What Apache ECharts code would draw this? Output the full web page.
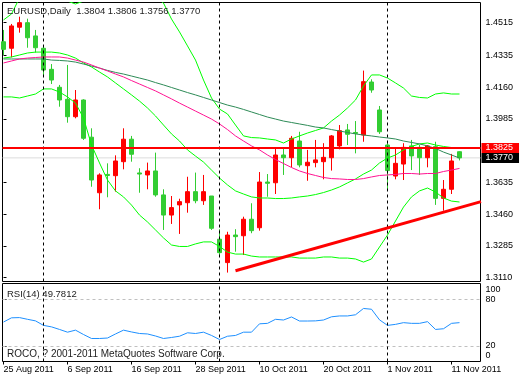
<!DOCTYPE html>
<html><head><meta charset="utf-8">
<script src="https://cdn.jsdelivr.net/npm/echarts@6/dist/echarts.min.js"></script>
<style>html,body{margin:0;padding:0;background:#fff}#c{width:520px;height:380px}</style>
</head><body><div id="c"></div>
<script>
// ---- data ----
const dates = ['25 Aug 2011','26 Aug 2011','29 Aug 2011','30 Aug 2011','31 Aug 2011','1 Sep 2011','2 Sep 2011','5 Sep 2011',
'6 Sep 2011','7 Sep 2011','8 Sep 2011','9 Sep 2011','12 Sep 2011','13 Sep 2011','14 Sep 2011','15 Sep 2011',
'16 Sep 2011','19 Sep 2011','20 Sep 2011','21 Sep 2011','22 Sep 2011','23 Sep 2011','26 Sep 2011','27 Sep 2011',
'28 Sep 2011','29 Sep 2011','30 Sep 2011','3 Oct 2011','4 Oct 2011','5 Oct 2011','6 Oct 2011','7 Oct 2011',
'10 Oct 2011','11 Oct 2011','12 Oct 2011','13 Oct 2011','14 Oct 2011','17 Oct 2011','18 Oct 2011','19 Oct 2011',
'20 Oct 2011','21 Oct 2011','24 Oct 2011','25 Oct 2011','26 Oct 2011','27 Oct 2011','28 Oct 2011','31 Oct 2011',
'1 Nov 2011','2 Nov 2011','3 Nov 2011','4 Nov 2011','7 Nov 2011','8 Nov 2011','9 Nov 2011','10 Nov 2011',
'11 Nov 2011','14 Nov 2011'];
const opens  = [1.4410,1.4374,1.4490,1.4515,1.4442,1.4374,1.4258,1.4159,1.4093,1.3997,1.4089,1.3884,1.3578,1.3679,1.3672,1.3749,
1.3873,1.3687,1.3676,1.3698,1.3566,1.3455,1.3511,1.3523,1.3584,1.3534,1.3560,1.3322,1.3193,1.3345,1.3341,1.3432,
1.3385,1.3637,1.3633,1.3786,1.3771,1.3863,1.3727,1.3744,1.3749,1.3771,1.3836,1.3924,1.3910,1.3896,1.4188,1.4034,
1.3841,1.3670,1.3736,1.3836,1.3828,1.3771,1.3832,1.3547,1.3597,1.3804];
const highs  = [1.4475,1.4508,1.4548,1.4537,1.4475,1.4383,1.4287,1.4172,1.4282,1.4144,1.4093,1.3933,1.3685,1.3740,1.3784,1.3933,
1.3891,1.3713,1.3744,1.3799,1.3597,1.3560,1.3545,1.3666,1.3689,1.3676,1.3560,1.3377,1.3363,1.3377,1.3446,1.3520,
1.3692,1.3681,1.3828,1.3828,1.3891,1.3914,1.3814,1.3869,1.3851,1.3896,1.3951,1.3957,1.3973,1.4251,1.4203,1.4056,
1.3851,1.3823,1.3851,1.3869,1.3841,1.3841,1.3859,1.3648,1.3792,1.3806];
const lows   = [1.4337,1.4324,1.4460,1.4377,1.4350,1.4221,1.4177,1.4052,1.3964,1.3988,1.3869,1.3611,1.3487,1.3553,1.3584,1.3707,
1.3749,1.3578,1.3597,1.3556,1.3373,1.3406,1.3351,1.3468,1.3520,1.3511,1.3373,1.3226,1.3138,1.3253,1.3235,1.3355,
1.3369,1.3556,1.3571,1.3676,1.3718,1.3718,1.3644,1.3718,1.3652,1.3700,1.3817,1.3841,1.3795,1.3859,1.4129,1.3902,
1.3597,1.3652,1.3648,1.3703,1.3676,1.3718,1.3511,1.3479,1.3571,1.3756];
const closes = [1.4368,1.4497,1.4515,1.4432,1.4377,1.4254,1.4199,1.4089,1.3997,1.4089,1.3878,1.3648,1.3676,1.3673,1.3753,1.3873,
1.3790,1.3681,1.3698,1.3566,1.3455,1.3496,1.3529,1.3584,1.3534,1.3584,1.3382,1.3248,1.3345,1.3336,1.3432,1.3369,
1.3637,1.3630,1.3786,1.3771,1.3878,1.3731,1.3746,1.3759,1.3773,1.3891,1.3920,1.3900,1.3905,1.4190,1.4144,1.3914,
1.3700,1.3740,1.3828,1.3781,1.3771,1.3836,1.3547,1.3597,1.3753,1.3770];
const bbUpper = [1.4530,1.4563,1.4651,1.4668,1.4673,1.4668,1.4662,1.4651,1.4634,1.4618,1.4634,1.4684,1.4723,1.4750,1.4750,1.4734,
1.4717,1.4695,1.4673,1.4657,1.4623,1.4535,1.4464,1.4387,1.4309,1.4199,1.4100,1.4039,1.4012,1.3951,1.3891,1.3882,
1.3880,1.3874,1.3869,1.3852,1.3874,1.3891,1.3907,1.3921,1.3935,1.3973,1.4006,1.4045,1.4089,1.4166,1.4227,1.4227,
1.4210,1.4183,1.4155,1.4111,1.4103,1.4100,1.4122,1.4128,1.4122,1.4122];
const bbMiddle = [1.4320,1.4326,1.4337,1.4348,1.4353,1.4353,1.4353,1.4348,1.4337,1.4320,1.4293,1.4271,1.4243,1.4216,1.4183,1.4150,
1.4117,1.4083,1.4045,1.4001,1.3951,1.3902,1.3863,1.3814,1.3780,1.3747,1.3703,1.3659,1.3621,1.3588,1.3571,1.3555,
1.3549,1.3549,1.3546,1.3546,1.3549,1.3555,1.3560,1.3568,1.3579,1.3593,1.3610,1.3632,1.3654,1.3681,1.3703,1.3742,
1.3769,1.3786,1.3814,1.3833,1.3847,1.3852,1.3841,1.3833,1.3827,1.3825];
const bbLower = [1.4106,1.4106,1.4100,1.4111,1.4122,1.4150,1.4150,1.4133,1.4106,1.4072,1.3990,1.3841,1.3742,1.3648,1.3588,1.3555,
1.3510,1.3455,1.3417,1.3373,1.3329,1.3290,1.3282,1.3282,1.3296,1.3307,1.3307,1.3282,1.3251,1.3240,1.3240,1.3229,
1.3224,1.3224,1.3224,1.3224,1.3224,1.3218,1.3218,1.3218,1.3224,1.3224,1.3218,1.3218,1.3213,1.3196,1.3213,1.3279,
1.3345,1.3422,1.3499,1.3555,1.3588,1.3604,1.3582,1.3549,1.3532,1.3527];
const maSlow = [1.4315,1.4315,1.4315,1.4315,1.4315,1.4315,1.4309,1.4307,1.4304,1.4298,1.4287,1.4276,1.4265,1.4252,1.4241,1.4232,
1.4221,1.4210,1.4199,1.4185,1.4172,1.4158,1.4144,1.4130,1.4117,1.4103,1.4089,1.4075,1.4061,1.4050,1.4037,1.4023,
1.4009,1.3995,1.3984,1.3973,1.3965,1.3957,1.3949,1.3940,1.3935,1.3926,1.3918,1.3910,1.3902,1.3896,1.3891,1.3885,
1.3880,1.3874,1.3863,1.3855,1.3847,1.3836,1.3822,1.3802,1.3786,1.3769];
const maFast = [1.4293,1.4304,1.4315,1.4320,1.4323,1.4326,1.4326,1.4326,1.4320,1.4309,1.4298,1.4282,1.4265,1.4249,1.4232,1.4216,
1.4196,1.4177,1.4158,1.4139,1.4117,1.4095,1.4072,1.4050,1.4028,1.4006,1.3984,1.3957,1.3926,1.3891,1.3863,1.3836,
1.3814,1.3786,1.3761,1.3739,1.3717,1.3698,1.3684,1.3673,1.3662,1.3656,1.3654,1.3651,1.3651,1.3656,1.3665,1.3673,
1.3676,1.3679,1.3684,1.3684,1.3681,1.3684,1.3684,1.3695,1.3703,1.3712];
const rsi = [50.6,56.0,56.3,54.1,52.1,46.3,44.4,41.1,37.6,40.2,34.6,29.5,29.5,30.1,35.3,40.2,
37.9,35.9,35.3,32.7,29.5,30.8,32.4,36.8,35.9,37.6,33.4,28.2,32.4,33.4,37.6,37.6,
48.3,48.9,54.1,53.2,57.1,51.9,51.9,52.1,53.2,57.3,58.4,58.4,59.9,68.0,67.0,53.4,
46.3,47.6,49.8,48.9,48.9,51.1,41.1,42.0,48.9,49.8];
const priceTicks = [1.3110,1.3285,1.3460,1.3635,1.3985,1.4160,1.4335,1.4515];
const dateTickIdx = [0,8,16,24,32,40,48,56];
const rsiTicks = [0,20,80,100];
const rsiLevels = [20,80];
const hLevel = 1.3825;
const bidLevel = 1.3770;
const trendLine = [[29,1.3148],[59.69,1.3529]];
const separators = [5,27,48];
const headerText = 'EURUSD,Daily  1.3804 1.3806 1.3756 1.3770';
const rsiText = 'RSI(14) 49.7812';
const copyText = 'ROCO, ? 2001-2011 MetaQuotes Software Corp.';

// ---- chart ----
const FONT = 'Liberation Sans';
const XMIN = -0.125, XMAX = 59.625;
const YMIN = 1.30889, YMAX = 1.46262;
const chart = echarts.init(document.getElementById('c'), null, {renderer:'canvas'});
const pts = arr => arr.map((v,i)=>[i,v]);
const lineS = (name, arr, color) => ({type:'line', name, data: pts(arr), xAxisIndex:0, yAxisIndex:0,
  showSymbol:false, symbol:'none', lineStyle:{color, width:1}, itemStyle:{color}, z:4, silent:true, clip:true});
const sepStyle = {color:'#000', width:1, type:[3,3]};
const levelSeries = (name, val, color, width, bg, z) => ({type:'line', name, xAxisIndex:0, yAxisIndex:0,
  data:[[XMIN,val],[XMAX,val]], showSymbol:false, symbol:'none', lineStyle:{color, width}, itemStyle:{color}, z, silent:true, clip:false,
  endLabel:{show:true, distance:1, formatter:()=>val.toFixed(4), color:'#fff', backgroundColor:bg,
    fontSize:9, fontFamily:FONT, padding:[1,6,0,4], lineHeight:9}});

chart.setOption({
  animation:false,
  backgroundColor:'#ffffff',
  grid:[
    {left:2.5, top:2.5, width:478, height:279, show:true, borderColor:'#000', borderWidth:1, backgroundColor:'transparent', containLabel:false, outerBoundsMode:'none'},
    {left:2.5, top:283.5, width:478, height:78, show:true, borderColor:'#000', borderWidth:1, backgroundColor:'transparent', containLabel:false, outerBoundsMode:'none'}
  ],
  xAxis:[
    {type:'value', gridIndex:0, min:XMIN, max:XMAX, axisLine:{show:false}, axisTick:{show:false}, axisLabel:{show:false}, splitLine:{show:false}},
    {type:'value', gridIndex:1, min:XMIN, max:XMAX, axisLine:{show:false}, splitLine:{show:false},
      axisTick:{show:true, customValues:dateTickIdx, length:3, lineStyle:{color:'#000'}},
      axisLabel:{show:true, customValues:dateTickIdx, formatter:v=>dates[Math.round(v)], align:'left', margin:4,
        fontSize:9, fontFamily:FONT, color:'#000'}}
  ],
  yAxis:[
    {type:'value', gridIndex:0, position:'right', min:YMIN, max:YMAX, axisLine:{show:false}, splitLine:{show:false},
      axisTick:{show:true, customValues:priceTicks, length:3, lineStyle:{color:'#000'}},
      axisLabel:{show:true, customValues:priceTicks, formatter:v=>v.toFixed(4), margin:5, fontSize:9, fontFamily:FONT, color:'#000'}},
    {type:'value', gridIndex:1, position:'right', min:0, max:100, axisLine:{show:false}, splitLine:{show:false},
      axisTick:{show:true, customValues:rsiTicks, length:3, lineStyle:{color:'#000'}},
      axisLabel:{show:true, customValues:rsiTicks, margin:5, fontSize:9, fontFamily:FONT, color:'#000',
        formatter:v=> v===100 ? '{t|100}' : (v===0 ? '{b|0}' : String(v)),
        rich:{t:{padding:[13,0,0,0], fontSize:9, fontFamily:FONT, color:'#000'},
              b:{padding:[0,0,12,0], fontSize:9, fontFamily:FONT, color:'#000'}}}}
  ],
  series:[
    levelSeries('bid', bidLevel, '#dcdcdc', 1, '#000000', 2),
    {type:'candlestick', name:'EURUSD', xAxisIndex:0, yAxisIndex:0,
      data: opens.map((o,i)=>[i,o,closes[i],lows[i],highs[i]]),
      encode:{x:0, y:[1,2,3,4]}, barWidth:5, silent:true, z:3,
      itemStyle:{color:'#ff0000', color0:'#32cd32', borderColor:'#ff0000', borderColor0:'#32cd32', borderWidth:1}},
    lineS('BB upper', bbUpper, '#00ff00'),
    lineS('BB middle', bbMiddle, '#00ff00'),
    lineS('BB lower', bbLower, '#00ff00'),
    lineS('MA slow', maSlow, '#2e8b57'),
    lineS('MA fast', maFast, '#ff1493'),
    levelSeries('level', hLevel, '#ff0000', 2, '#ff0000', 6),
    {type:'line', name:'trend', data:trendLine, xAxisIndex:0, yAxisIndex:0, showSymbol:false, symbol:'none',
      lineStyle:{color:'#ff0000', width:3}, z:6, silent:true, clip:true,
      markLine:{symbol:'none', silent:true, animation:false, lineStyle:sepStyle, label:{show:false},
        data: separators.map(v=>({xAxis:v}))}},
    {type:'line', name:'RSI(14)', data:pts(rsi), xAxisIndex:1, yAxisIndex:1, showSymbol:false, symbol:'none',
      lineStyle:{color:'#1e90ff', width:1}, z:4, silent:true,
      markLine:{symbol:'none', silent:true, animation:false, label:{show:false},
        data:[
          ...rsiLevels.map(v=>({yAxis:v, lineStyle:{color:'#c0c0c0', width:1, type:[3,3]}})),
          ...separators.map(v=>({xAxis:v, lineStyle:sepStyle}))
        ]}}
  ],
  graphic:[
    {type:'text', x:7, y:11, silent:true, z:10, style:{text:headerText, fontSize:9.5, fontFamily:FONT, fill:'#222', verticalAlign:'middle'}},
    {type:'text', x:7, y:294, silent:true, z:10, style:{text:rsiText, fontSize:9.5, fontFamily:FONT, fill:'#222', verticalAlign:'middle'}},
    {type:'text', x:7, y:354, silent:true, z:10, style:{text:copyText, fontSize:10, fontFamily:FONT, fill:'#222', verticalAlign:'middle'}}
  ]
});
</script></body></html>
